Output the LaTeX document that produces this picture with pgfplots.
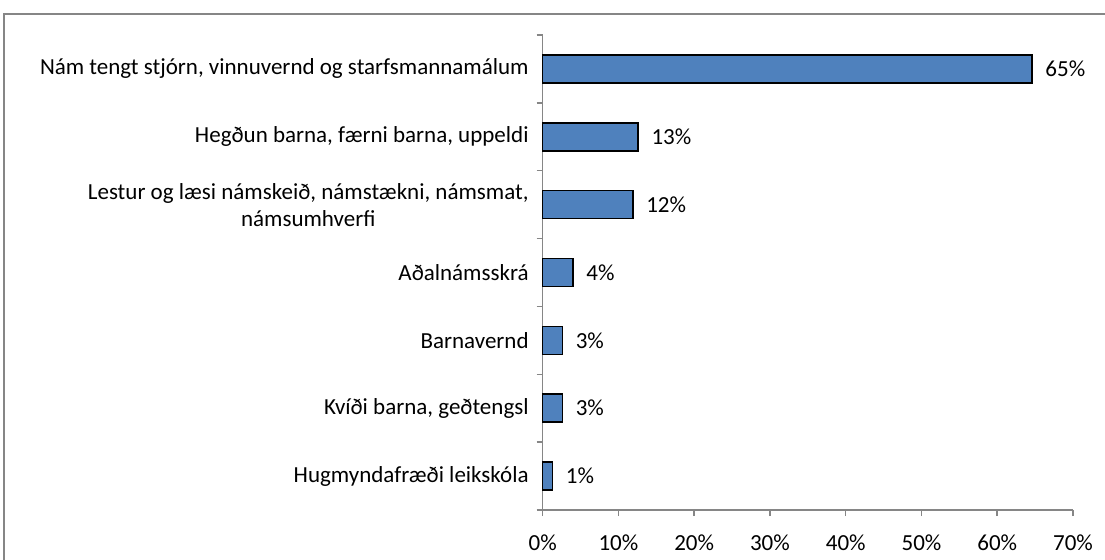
\documentclass[border=0pt]{standalone}
\usepackage{fontspec}
\setmainfont{Carlito}
\usepackage{pgfplots}
\pgfplotsset{compat=1.18}
\definecolor{barblue}{HTML}{4F81BD}
\definecolor{axgray}{HTML}{868686}
\begin{document}
\begin{tikzpicture}[x=1pt,y=1pt]
\draw[axgray, line width=0.8pt] (-269.35,-60) rectangle (320,248);
\begin{axis}[
 at={(0,0)}, anchor=south west,
 width=265.15pt, height=237.5pt, scale only axis,
 xbar, bar width=14pt,
 xmin=0, xmax=70, ymin=-0.5, ymax=6.5,
 axis x line*=bottom, axis y line*=left,
 axis line style={axgray, line width=0.75pt},
 tick align=outside,
 major tick length=3pt,
 xtick={0,10,...,70},
 xticklabels={0\%,10\%,20\%,30\%,40\%,50\%,60\%,70\%},
 xtick style={axgray, line width=0.75pt},
 xticklabel style={yshift=-6pt},
 ytick={0,...,6},
 yticklabels={{Hugmyndafræði leikskóla},{Kvíði barna, geðtengsl},{Barnavernd},{Aðalnámsskrá},{Lestur og læsi námskeið, námstækni, námsmat,\\námsumhverfi},{Hegðun barna, færni barna, uppeldi},{Nám tengt stjórn, vinnuvernd og starfsmannamálum}},
 yticklabel style={align=center, xshift=-0.5pt},
 ytick style={draw=none},
 extra y ticks={-0.5,0.5,...,6.5},
 extra y tick labels={},
 extra y tick style={ytick style={draw=axgray, line width=0.75pt}},
 font=\fontsize{11.5pt}{13.5pt}\selectfont,
 nodes near coords,
 point meta=explicit symbolic,
 every node near coord/.append style={anchor=west, xshift=3pt, font=\fontsize{11.5pt}{13.5pt}\selectfont, text=black},
 clip=false,
]
\addplot[fill=barblue, draw=black, line width=0.75pt] coordinates {
 (1.3,0) [1\%]
 (2.6,1) [3\%]
 (2.6,2) [3\%]
 (4.0,3) [4\%]
 (11.9,4) [12\%]
 (12.6,5) [13\%]
 (64.6,6) [65\%]
};
\end{axis}
\pgfresetboundingbox
\useasboundingbox (-271.35,-24.5) rectangle (281.15,255);
\end{tikzpicture}
\end{document}
